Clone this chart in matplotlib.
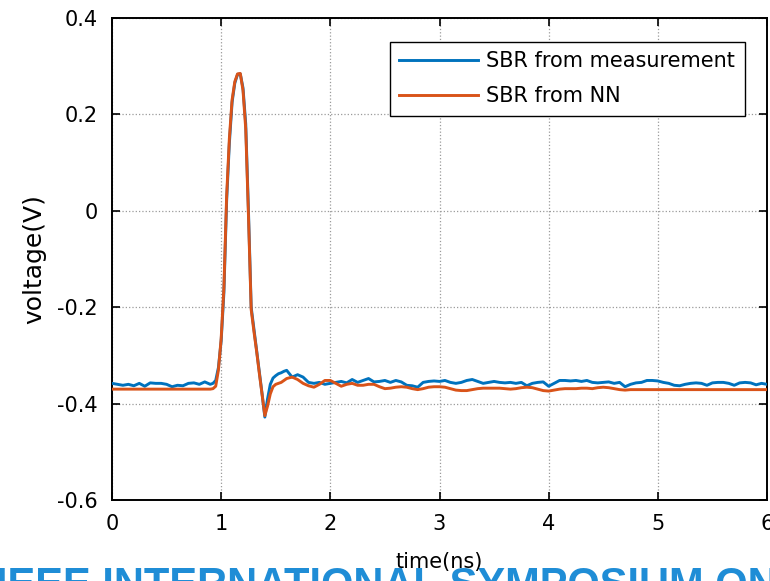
import numpy as np
import matplotlib
matplotlib.use("Agg")
import matplotlib.pyplot as plt

plt.rcParams['font.family'] = ['DejaVu Sans']

# ---- sampling grid (ns) ----
t_base = np.round(np.arange(0.0, 0.901, 0.05), 3)
t_pulse = np.round(np.arange(0.925, 1.601, 0.025), 3)
t_tail = np.round(np.arange(1.65, 6.001, 0.05), 3)
time_ns = np.concatenate([t_base, t_pulse, t_tail])

# ---- SBR from measurement (V) ----
meas_base = [-0.358, -0.360, -0.362, -0.360, -0.363, -0.358, -0.364, -0.357, -0.358, -0.358,
             -0.360, -0.365, -0.362, -0.363, -0.358, -0.357, -0.360, -0.355, -0.360]
meas_pulse = [-0.358, -0.352, -0.325, -0.270, -0.170, 0.020, 0.140, 0.225, 0.265, 0.283,
              0.284, 0.255, 0.180, 0.000, -0.200, -0.245, -0.290, -0.335, -0.380, -0.428,
              -0.390, -0.360, -0.347, -0.342, -0.338, -0.336, -0.333, -0.331]
meas_tail = [-0.345, -0.340, -0.345, -0.356, -0.358, -0.356, -0.360, -0.358, -0.356, -0.354,
             -0.357, -0.350, -0.356, -0.352, -0.348, -0.355, -0.354, -0.352, -0.356, -0.352,
             -0.355, -0.362, -0.363, -0.366, -0.356, -0.354, -0.353, -0.354, -0.352, -0.356,
             -0.358, -0.356, -0.352, -0.350, -0.354, -0.358, -0.356, -0.354, -0.356, -0.357,
             -0.356, -0.358, -0.356, -0.363, -0.358, -0.356, -0.355, -0.364, -0.358, -0.352,
             -0.352, -0.353, -0.352, -0.354, -0.352, -0.356, -0.357, -0.356, -0.355, -0.358,
             -0.356, -0.365, -0.360, -0.357, -0.356, -0.352, -0.352, -0.353, -0.356, -0.358,
             -0.362, -0.363, -0.360, -0.358, -0.357, -0.358, -0.362, -0.357, -0.356, -0.356,
             -0.358, -0.362, -0.357, -0.356, -0.357, -0.361, -0.358, -0.360]
meas = np.array(meas_base + meas_pulse + meas_tail)

# ---- SBR from NN (V) ----
nn_base = [-0.370] * 19
nn_pulse = [-0.369, -0.364, -0.330, -0.265, -0.160, 0.030, 0.150, 0.230, 0.268, 0.284,
            0.285, 0.250, 0.170, -0.010, -0.205, -0.250, -0.292, -0.338, -0.382, -0.425,
            -0.405, -0.380, -0.365, -0.360, -0.358, -0.356, -0.352, -0.348]
nn_tail = [-0.345, -0.350, -0.358, -0.363, -0.366, -0.360, -0.352, -0.352, -0.358, -0.364,
           -0.360, -0.358, -0.362, -0.362, -0.360, -0.360, -0.365, -0.369, -0.368, -0.366,
           -0.365, -0.366, -0.369, -0.371, -0.369, -0.366, -0.365, -0.365, -0.366, -0.369,
           -0.372, -0.373, -0.373, -0.371, -0.369, -0.368, -0.368, -0.368, -0.368, -0.369,
           -0.370, -0.369, -0.367, -0.366, -0.367, -0.370, -0.373, -0.374, -0.372, -0.370,
           -0.369, -0.369, -0.369, -0.368, -0.368, -0.369, -0.367, -0.366, -0.367, -0.369,
           -0.371, -0.372, -0.371, -0.371, -0.371, -0.371, -0.371, -0.371, -0.371, -0.371,
           -0.371, -0.371, -0.371, -0.371, -0.371, -0.371, -0.371, -0.371, -0.371, -0.371,
           -0.371, -0.371, -0.371, -0.371, -0.371, -0.371, -0.371, -0.371]
nn = np.array(nn_base + nn_pulse + nn_tail)

series_labels = ["SBR from measurement", "SBR from NN"]
x_ticks = [0, 1, 2, 3, 4, 5, 6]
y_ticks = [-0.6, -0.4, -0.2, 0, 0.2, 0.4]
y_tick_labels = ["-0.6", "-0.4", "-0.2", "0", "0.2", "0.4"]

fig = plt.figure(figsize=(7.7, 5.81), dpi=100)
ax = fig.add_axes([112 / 770, 1 - 500 / 581, (767 - 112) / 770, (500 - 18) / 581])

ax.plot(time_ns, meas, color='#0072BD', lw=2.1, label=series_labels[0], zorder=3)
ax.plot(time_ns, nn, color='#D95319', lw=2.1, label=series_labels[1], zorder=4)

ax.set_xlim(0, 6)
ax.set_ylim(-0.6, 0.4)
ax.set_xticks(x_ticks)
ax.set_yticks(y_ticks)
ax.set_yticklabels(y_tick_labels)
ax.grid(True, linestyle=':', color='#9a9a9a', lw=0.9)
ax.tick_params(direction='in', length=6, width=1.2, top=True, right=True,
               labelsize=15, pad=10, colors='black')
for sp in ax.spines.values():
    sp.set_linewidth(1.4)
    sp.set_color('black')

ax.set_xlabel("time(ns)", fontsize=15, labelpad=13)
ax.set_ylabel("voltage(V)", fontsize=18, labelpad=8)

leg = ax.legend(loc='upper right', bbox_to_anchor=(0.966, 0.950), fontsize=15,
                frameon=True, fancybox=False, framealpha=1, edgecolor='black',
                handlelength=3.8, handletextpad=0.4, labelspacing=0.72,
                borderpad=0.45, borderaxespad=0)
leg.get_frame().set_linewidth(1.0)

fig.text(-0.005, 1 - 597 / 581, "IEEE INTERNATIONAL SYMPOSIUM ON", fontsize=30,
         fontweight='bold', color='#1f8dd6', ha='left', va='baseline', zorder=-1,
         family='Liberation Sans')

fig.savefig("out.png", dpi=100)
